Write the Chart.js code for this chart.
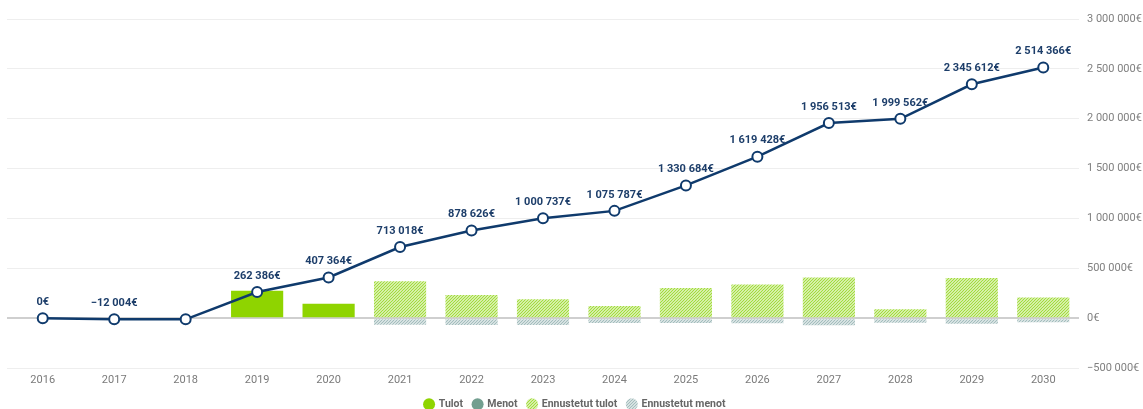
<!DOCTYPE html>
<html><head><meta charset="utf-8">
<script src="https://cdn.jsdelivr.net/npm/chart.js@4"></script>
<style>html,body{margin:0;padding:0;background:#fff}#wrap{width:1143px;height:409px;position:relative}</style>
</head><body><div id="wrap"><canvas id="c"></canvas></div>
<script>
const years = ['2016','2017','2018','2019','2020','2021','2022','2023','2024','2025','2026','2027','2028','2029','2030'];
const tulot = [0, 0, 0, 274390, 144978, null, null, null, null, null, null, null, null, null, null];
const menot = [0, 0, 0, 0, 0, null, null, null, null, null, null, null, null, null, null];
const tulotEnnuste = [null, null, null, null, null, 370000, 232000, 190000, 122000, 302000, 338000, 408000, 88000, 402000, 207000];
const menotEnnuste = [null, null, null, null, null, -67000, -68000, -68000, -48000, -48000, -50000, -72000, -46000, -57000, -40000];
const kumulatiivinen = [0, -12004, -12004, 262386, 407364, 713018, 878626, 1000737, 1075787, 1330684, 1619428, 1956513, 1999562, 2345612, 2514366];
const pisteTekstit = ['0€', '\u221212 004€', '', '262 386€', '407 364€', '713 018€', '878 626€', '1 000 737€', '1 075 787€', '1 330 684€', '1 619 428€', '1 956 513€', '1 999 562€', '2 345 612€', '2 514 366€'];
const sarjaNimet = ['Tulot', 'Menot', 'Ennustetut tulot', 'Ennustetut menot'];

function stripes(color) {
  const s = 3;
  const cv = document.createElement('canvas');
  cv.width = s; cv.height = s;
  const g = cv.getContext('2d');
  g.fillStyle = '#ffffff';
  g.fillRect(0, 0, s, s);
  g.strokeStyle = color;
  g.lineWidth = 1.3;
  g.beginPath();
  g.moveTo(0, s); g.lineTo(s, 0);
  g.moveTo(-1, 1); g.lineTo(1, -1);
  g.moveTo(s - 1, s + 1); g.lineTo(s + 1, s - 1);
  g.stroke();
  return g.createPattern(cv, 'repeat');
}

function euro(v) {
  const neg = v < 0;
  const s = Math.abs(Math.round(v)).toString().replace(/\B(?=(\d{3})+(?!\d))/g, ' ');
  return (neg ? '\u2212' : '') + s + '€';
}

const FONT = 'Roboto, "Open Sans", sans-serif';

const pointLabels = {
  id: 'pointLabels',
  afterDatasetsDraw(chart) {
    const meta = chart.getDatasetMeta(4);
    const ctx = chart.ctx;
    ctx.save();
    ctx.font = 'bold 11px ' + FONT;
    ctx.fillStyle = '#1d3e6a';
    ctx.textAlign = 'center';
    ctx.textBaseline = 'middle';
    meta.data.forEach((pt, i) => {
      if (pisteTekstit[i]) ctx.fillText(pisteTekstit[i], pt.x, pt.y - 16);
    });
    ctx.restore();
  }
};

new Chart(document.getElementById('c'), {
  data: {
    labels: years,
    datasets: [
      { type: 'bar', label: sarjaNimet[0], data: tulot, backgroundColor: '#8fd400', stack: 's', order: 2 },
      { type: 'bar', label: sarjaNimet[1], data: menot, backgroundColor: '#739f90', stack: 's', order: 2 },
      { type: 'bar', label: sarjaNimet[2], data: tulotEnnuste, backgroundColor: stripes('#a2dc3c'), stack: 's', order: 2 },
      { type: 'bar', label: sarjaNimet[3], data: menotEnnuste, backgroundColor: stripes('#a3bdbd'), stack: 's', order: 2 },
      { type: 'line', label: 'Kumulatiivinen', data: kumulatiivinen, borderColor: '#0f3a6c', borderWidth: 2.5,
        pointRadius: 5, pointBorderWidth: 2, pointBackgroundColor: '#ffffff', pointBorderColor: '#0f3a6c',
        tension: 0, stack: 'line', order: 0 }
    ]
  },
  options: {
    responsive: true,
    maintainAspectRatio: false,
    animation: false,
    layout: { padding: { left: 7, top: 19, right: 0, bottom: 0 } },
    datasets: { bar: { categoryPercentage: 1, barPercentage: 0.73 } },
    scales: {
      x: {
        stacked: true,
        grid: { display: false, drawTicks: false },
        border: { display: false },
        ticks: { color: '#7a7a7a', font: { family: FONT, size: 11 }, padding: 6 },
        afterFit: (s) => { s.height = 21; }
      },
      y: {
        stacked: true,
        position: 'right',
        min: -500000, max: 3000000,
        border: { display: false },
        grid: {
          drawTicks: false,
          color: (c) => c.tick && c.tick.value === 0 ? '#cfcfcf' : '#eeeeee',
          lineWidth: (c) => c.tick && c.tick.value === 0 ? 2 : 1
        },
        ticks: { stepSize: 500000, color: '#808080', font: { family: FONT, size: 11 }, padding: 8,
          callback: (v) => euro(v) },
        afterFit: (s) => { s.width = 64; }
      }
    },
    plugins: {
      tooltip: { enabled: false },
      legend: {
        position: 'bottom',
        maxHeight: 20,
        labels: {
          filter: (item) => item.datasetIndex < 4,
          usePointStyle: true, pointStyle: 'circle',
          boxWidth: 9, boxHeight: 8.5,
          padding: 10,
          color: '#666666',
          font: { family: FONT, size: 10.5, weight: 'bold' }
        }
      }
    }
  },
  plugins: [pointLabels]
});
</script></body></html>
